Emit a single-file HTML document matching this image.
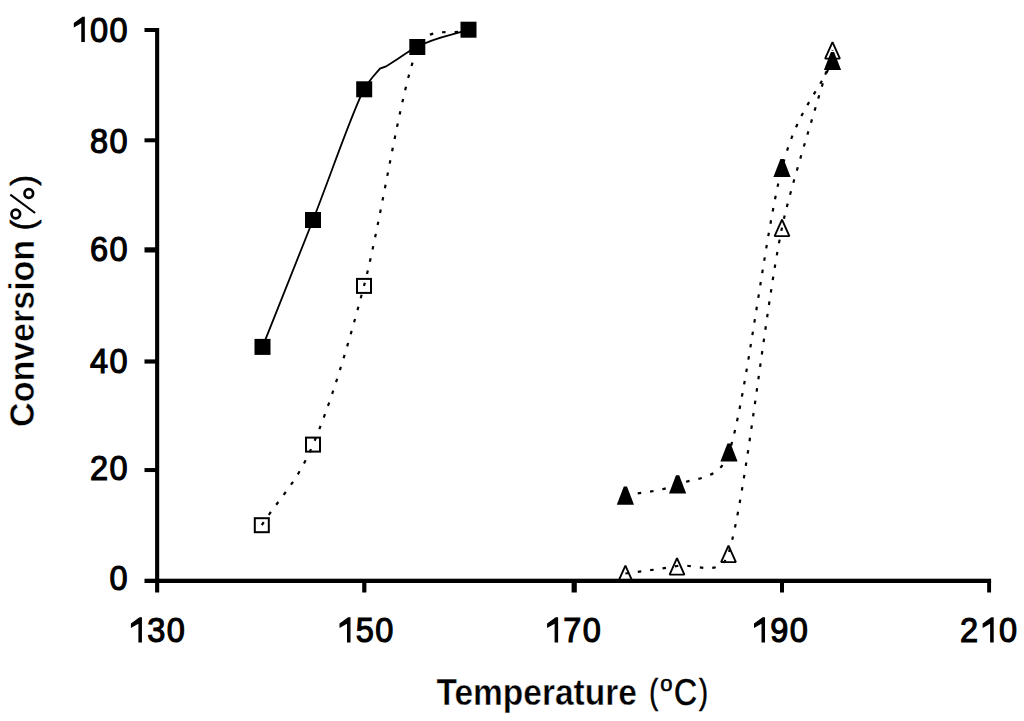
<!DOCTYPE html>
<html><head><meta charset="utf-8"><style>
html,body{margin:0;padding:0;background:#fff;width:1024px;height:721px;overflow:hidden}
svg{display:block}
text{font-family:"Liberation Sans",sans-serif}
</style></head><body>
<svg width="1024" height="721" viewBox="0 0 1024 721">
<g fill="#000">
<rect x="155.1" y="28" width="4.1" height="564.5"/>
<rect x="144.5" y="578.7" width="846.6" height="4.3"/>
<rect x="144.5" y="28.00" width="12" height="4.0"/>
<rect x="144.5" y="138.30" width="12" height="4.0"/>
<rect x="144.5" y="247.30" width="12" height="5.2"/>
<rect x="144.5" y="359.40" width="12" height="4.2"/>
<rect x="144.5" y="468.05" width="12" height="4.0"/>
<rect x="362.20" y="581" width="4.2" height="11.5"/>
<rect x="571.60" y="581" width="5.2" height="11.5"/>
<rect x="780.00" y="581" width="4.0" height="11.5"/>
<rect x="987.15" y="581" width="3.9" height="11.5"/>
</g>
<path d="M262.5,346.9 C279.3,304.6 296.1,262.9 313.0,220.0 C329.9,177.1 354.8,104.9 364.2,89.3 L368.5,82.5 L372.5,77.2 L380.0,68.6 L386.0,66.4 L398.0,58.8 L405.0,53.9 L410.0,50.8 L417.3,47.0 C434.7,37.1 451.4,35.5 468.5,29.7" fill="none" stroke="#000" stroke-width="1.8"/>
<path d="M261.8,525.2 C278.9,498.3 296.0,484.5 313.0,444.6 C330.0,404.7 346.6,351.8 364.0,285.9 C381.4,220.0 399.9,91.6 417.3,49.0 C427.6,23.7 451.4,36.3 468.5,30.0" fill="none" stroke="#000" stroke-width="2.2" stroke-dasharray="3.5 9"/>
<path d="M625.4,495.6 C642.8,491.9 660.3,491.6 677.6,484.4 C694.9,477.2 719.5,481.2 729.0,452.5 C746.4,399.8 764.8,233.2 782.0,168.0 C797.1,110.8 815.7,96.7 832.5,61.0" fill="none" stroke="#000" stroke-width="2.2" stroke-dasharray="3.5 9"/>
<path d="M625.4,573.5 C642.6,571.0 659.8,569.3 677.0,566.0 C694.2,562.7 720.6,578.8 728.5,553.5 C746.0,497.1 764.7,311.4 782.0,227.5 C790.3,187.2 815.7,109.2 832.5,50.0" fill="none" stroke="#000" stroke-width="2.2" stroke-dasharray="3.5 9"/>
<rect x="254.5" y="338.9" width="16" height="16" fill="#000"/>
<rect x="305.0" y="212.0" width="16" height="16" fill="#000"/>
<rect x="356.2" y="81.3" width="16" height="16" fill="#000"/>
<rect x="409.3" y="39.0" width="16" height="16" fill="#000"/>
<rect x="460.5" y="21.7" width="16" height="16" fill="#000"/>
<rect x="254.8" y="518.2" width="14" height="14" fill="none" stroke="#000" stroke-width="2"/>
<rect x="306.0" y="437.6" width="14" height="14" fill="none" stroke="#000" stroke-width="2"/>
<rect x="357.0" y="278.9" width="14" height="14" fill="none" stroke="#000" stroke-width="2"/>
<path d="M625.4,565.7 L632.8,582.1 L618.0,582.1 Z" fill="none" stroke="#000" stroke-width="1.9" stroke-linejoin="bevel"/>
<path d="M677.0,558.2 L684.4,574.6 L669.6,574.6 Z" fill="none" stroke="#000" stroke-width="1.9" stroke-linejoin="bevel"/>
<path d="M728.5,545.7 L735.9,562.1 L721.1,562.1 Z" fill="none" stroke="#000" stroke-width="1.9" stroke-linejoin="bevel"/>
<path d="M782.0,219.7 L789.4,236.1 L774.6,236.1 Z" fill="none" stroke="#000" stroke-width="1.9" stroke-linejoin="bevel"/>
<path d="M832.5,42.2 L839.9,58.6 L825.1,58.6 Z" fill="none" stroke="#000" stroke-width="1.9" stroke-linejoin="bevel"/>
<path d="M623.80,486.50 L627.00,486.50 L634.00,504.70 L616.80,504.70 Z" fill="#000"/>
<path d="M676.00,475.30 L679.20,475.30 L686.20,493.50 L669.00,493.50 Z" fill="#000"/>
<path d="M727.40,443.40 L730.60,443.40 L737.60,461.60 L720.40,461.60 Z" fill="#000"/>
<path d="M780.40,158.90 L783.60,158.90 L790.60,177.10 L773.40,177.10 Z" fill="#000"/>
<path d="M830.90,51.90 L834.10,51.90 L841.10,70.10 L823.90,70.10 Z" fill="#000"/>
<g font-family="Liberation Sans, sans-serif" font-size="35" fill="#000" stroke="#000" stroke-width="1.2">
<path d="M81.90,41.50 L81.90,22.19 L74.40,26.46 L74.40,23.38 L82.64,17.42 L84.21,17.42 L84.21,41.50 Z"/>
<text transform="translate(99.10,41.50) scale(0.930,1)" x="0" y="0" text-anchor="middle">0</text>
<text transform="translate(118.57,41.50) scale(0.930,1)" x="0" y="0" text-anchor="middle">0</text>
<text transform="translate(99.10,153.00) scale(0.930,1)" x="0" y="0" text-anchor="middle">8</text>
<text transform="translate(118.57,153.00) scale(0.930,1)" x="0" y="0" text-anchor="middle">0</text>
<text transform="translate(99.10,261.00) scale(0.930,1)" x="0" y="0" text-anchor="middle">6</text>
<text transform="translate(118.57,261.00) scale(0.930,1)" x="0" y="0" text-anchor="middle">0</text>
<text transform="translate(99.10,373.00) scale(0.930,1)" x="0" y="0" text-anchor="middle">4</text>
<text transform="translate(118.57,373.00) scale(0.930,1)" x="0" y="0" text-anchor="middle">0</text>
<text transform="translate(99.10,479.50) scale(0.930,1)" x="0" y="0" text-anchor="middle">2</text>
<text transform="translate(118.57,479.50) scale(0.930,1)" x="0" y="0" text-anchor="middle">0</text>
<text transform="translate(118.57,590.00) scale(0.930,1)" x="0" y="0" text-anchor="middle">0</text>
<path d="M139.00,642.00 L139.00,622.69 L131.50,626.96 L131.50,623.88 L139.73,617.92 L141.31,617.92 L141.31,642.00 Z"/>
<text transform="translate(156.20,642.00) scale(0.930,1)" x="0" y="0" text-anchor="middle">3</text>
<text transform="translate(175.67,642.00) scale(0.930,1)" x="0" y="0" text-anchor="middle">0</text>
<path d="M347.60,642.00 L347.60,622.69 L340.10,626.96 L340.10,623.88 L348.33,617.92 L349.91,617.92 L349.91,642.00 Z"/>
<text transform="translate(364.80,642.00) scale(0.930,1)" x="0" y="0" text-anchor="middle">5</text>
<text transform="translate(384.27,642.00) scale(0.930,1)" x="0" y="0" text-anchor="middle">0</text>
<path d="M555.20,642.00 L555.20,622.69 L547.70,626.96 L547.70,623.88 L555.93,617.92 L557.51,617.92 L557.51,642.00 Z"/>
<text transform="translate(572.40,642.00) scale(0.930,1)" x="0" y="0" text-anchor="middle">7</text>
<text transform="translate(591.87,642.00) scale(0.930,1)" x="0" y="0" text-anchor="middle">0</text>
<path d="M762.10,642.00 L762.10,622.69 L754.60,626.96 L754.60,623.88 L762.83,617.92 L764.41,617.92 L764.41,642.00 Z"/>
<text transform="translate(779.30,642.00) scale(0.930,1)" x="0" y="0" text-anchor="middle">9</text>
<text transform="translate(798.77,642.00) scale(0.930,1)" x="0" y="0" text-anchor="middle">0</text>
<text transform="translate(969.03,642.00) scale(0.930,1)" x="0" y="0" text-anchor="middle">2</text>
<path d="M990.76,642.00 L990.76,622.69 L983.26,626.96 L983.26,623.88 L991.50,617.92 L993.07,617.92 L993.07,642.00 Z"/>
<text transform="translate(1007.97,642.00) scale(0.930,1)" x="0" y="0" text-anchor="middle">0</text>
<text transform="translate(436.44,705.20) scale(1,1.1)" font-size="33.5" font-weight="bold" stroke="#fff" stroke-width="0.4">Temperature</text>
<text transform="translate(649.19,704.30) scale(0.800,1.030)" font-size="33.5" font-weight="normal" stroke="#000" stroke-width="0.60">(</text>
<text transform="translate(673.96,705.20) scale(0.950,1.080)" font-size="33.5" font-weight="normal" stroke="#000" stroke-width="0.60">C</text>
<text transform="translate(698.99,704.30) scale(0.800,1.030)" font-size="33.5" font-weight="normal" stroke="#000" stroke-width="0.60">)</text>
<text transform="translate(660.13,690.90) scale(1.000,1.000)" font-size="22" font-weight="normal" stroke="#000" stroke-width="0.60">o</text>
<g transform="translate(33.80,0) rotate(-90)">
<text x="-426.91" y="0" transform="scale(1,1.05)" font-size="34" font-weight="bold" stroke="#fff" stroke-width="0.5">Conversion</text>
<text transform="translate(-230.58,0.00) scale(0.950,1.000)" font-size="34" font-weight="normal" stroke="#000" stroke-width="0.60">(</text>
<text transform="translate(-185.72,0.00) scale(0.950,1.000)" font-size="34" font-weight="normal" stroke="#000" stroke-width="0.60">)</text>
</g>
<g fill="none" stroke="#000"><circle cx="28.8" cy="193.5" r="4.3" stroke-width="2.7"/><circle cx="15.8" cy="214" r="4.3" stroke-width="2.7"/><path d="M10.3,194.7 L35.1,213" stroke-width="2.1"/></g>
</g>
</svg>
</body></html>
